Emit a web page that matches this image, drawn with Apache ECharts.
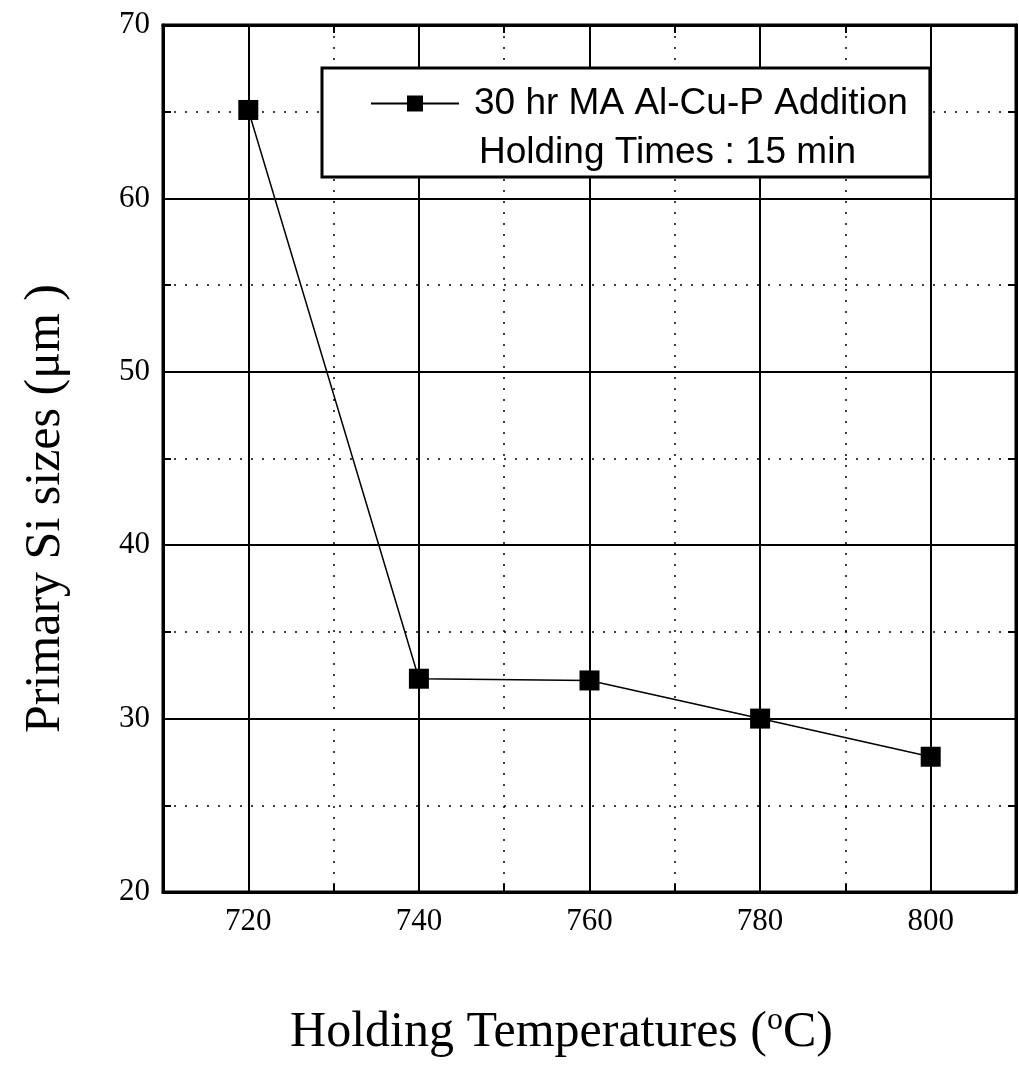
<!DOCTYPE html>
<html>
<head>
<meta charset="utf-8">
<script src="https://cdn.jsdelivr.net/npm/echarts@6/dist/echarts.min.js"></script>
<style>html,body{margin:0;padding:0;background:#fff;}#c{width:1019px;height:1070px;}</style>
</head>
<body>
<div id="c"></div>
<script>
const temps = [720, 740, 760, 780, 800];
const sizes = [65.1, 32.3, 32.2, 30.0, 27.8];
const xMajorTicks = [720, 740, 760, 780, 800];
const seriesName = '30 hr MA Al-Cu-P Addition';
const noteText = 'Holding Times : 15 min';

const chart = echarts.init(document.getElementById('c'));
const dotted = { color: '#000', width: 1.5, type: [2, 9] };
const serif = 'Liberation Serif';
chart.setOption({
  animation: false,
  backgroundColor: '#fff',
  grid: { left: 163, right: 1, top: 25, bottom: 178, show: true, borderColor: '#000', borderWidth: 3, backgroundColor: 'transparent' },
  title: {
    text: noteText, left: 474, top: 129, z: 20,
    textStyle: { fontFamily: 'Liberation Sans', fontSize: 37, fontWeight: 'normal', color: '#000' }
  },
  legend: {
    left: 322, top: 68, z: 10,
    data: [seriesName],
    itemWidth: 88, itemHeight: 20, itemGap: 0,
    padding: [17, 22, 55, 48],
    backgroundColor: '#fff',
    borderColor: '#000', borderWidth: 3,
    textStyle: { fontFamily: 'Liberation Sans', fontSize: 37, color: '#000', padding: [0, 0, 0, 10] }
  },
  xAxis: [{
    type: 'value', min: 710, max: 810, interval: 10,
    name: 'Holding Temperatures ({sup|o}C)',
    nameLocation: 'middle', nameGap: 113,
    nameTextStyle: {
      fontFamily: serif, fontSize: 50, color: '#000', padding: [0, 56, 0, 0],
      rich: { sup: { fontFamily: serif, fontSize: 32, verticalAlign: 'top', padding: [0, 0, 24, 0], color: '#000' } }
    },
    axisLine: { show: true, lineStyle: { color: '#000', width: 3 } },
    axisTick: { show: true, inside: true, length: 8, lineStyle: { color: '#000', width: 2 } },
    axisLabel: {
      fontFamily: serif, fontSize: 31, color: '#000', margin: 14,
      formatter: v => xMajorTicks.includes(v) ? String(v) : ''
    },
    splitLine: { show: true, lineStyle: dotted }
  }, {
    type: 'value', min: 710, max: 810, interval: 10, position: 'top',
    axisLine: { show: true, lineStyle: { color: '#000', width: 3 } },
    axisTick: { show: true, inside: true, length: 8, lineStyle: { color: '#000', width: 2 } },
    axisLabel: { show: false }, splitLine: { show: false }
  }],
  yAxis: [{
    type: 'value', min: 20, max: 70, interval: 10,
    name: 'Primary Si sizes (μm )',
    nameLocation: 'middle', nameGap: 92,
    nameTextStyle: { fontFamily: serif, fontSize: 50, color: '#000', padding: [0, 100, 0, 0] },
    axisLine: { show: true, lineStyle: { color: '#000', width: 3 } },
    axisTick: { show: true, inside: true, length: 8, lineStyle: { color: '#000', width: 2 } },
    minorTick: { show: true, splitNumber: 2, length: 8, lineStyle: { color: '#000', width: 2 } },
    axisLabel: { fontFamily: serif, fontSize: 31, color: '#000', margin: 13 },
    splitLine: { show: true, lineStyle: { color: '#000', width: 2 } },
    minorSplitLine: { show: true, lineStyle: dotted }
  }, {
    type: 'value', min: 20, max: 70, interval: 10, position: 'right',
    axisLine: { show: true, lineStyle: { color: '#000', width: 3 } },
    axisTick: { show: true, inside: true, length: 8, lineStyle: { color: '#000', width: 2 } },
    minorTick: { show: true, splitNumber: 2, length: 8, lineStyle: { color: '#000', width: 2 } },
    axisLabel: { show: false }, splitLine: { show: false }
  }],
  series: [{
    name: seriesName,
    type: 'line',
    data: temps.map((t, i) => [t, sizes[i]]),
    symbol: 'rect', symbolSize: 20,
    itemStyle: { color: '#000' },
    lineStyle: { color: '#000', width: 1.5 },
    z: 5,
    markLine: {
      silent: true, symbol: 'none', label: { show: false },
      lineStyle: { color: '#000', width: 2, type: 'solid' },
      data: xMajorTicks.map(v => ({ xAxis: v }))
    }
  }]
});
</script>
</body>
</html>
